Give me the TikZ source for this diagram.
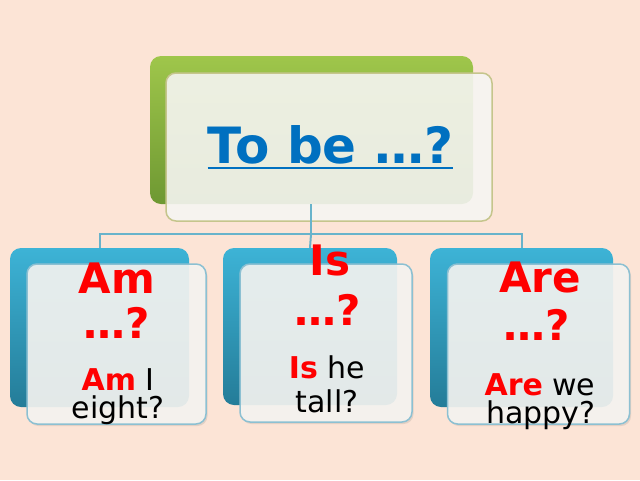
\documentclass[tikz,border=0pt]{standalone}
\usepackage{fontspec}
\setmainfont{DejaVu Sans}
\usetikzlibrary{shadows}
\definecolor{bgc}{HTML}{FCE4D6}
\definecolor{greentop}{HTML}{9FC64B}
\definecolor{greenbot}{HTML}{6E9832}
\definecolor{bluetop}{HTML}{3DB3D6}
\definecolor{bluebot}{HTML}{247C98}
\definecolor{frontfill}{HTML}{F6F5F2}
\definecolor{khaki}{HTML}{C5C58C}
\definecolor{lightblue}{HTML}{8CC0D2}
\definecolor{conncol}{HTML}{68B3CB}
\definecolor{titleblue}{HTML}{0070C0}
\definecolor{redtxt}{HTML}{FF0000}
\begin{document}
\begin{tikzpicture}[x=1pt,y=-1pt,
  box/.style={rectangle,rounded corners=11pt,inner sep=0pt,outer sep=0pt},
  greenback/.style={box,top color=greentop,bottom color=greenbot},
  blueback/.style={box,top color=bluetop,bottom color=bluebot},
  topfront/.style={box,draw=khaki,line width=1.5pt,fill=frontfill,fill opacity=0.9,rounded corners=10pt},
  lowfront/.style={box,draw=lightblue,line width=1.5pt,fill=frontfill,fill opacity=0.9,rounded corners=10pt,
    drop shadow={shadow xshift=1.5pt,shadow yshift=-2pt,opacity=0.2}},
  conn/.style={draw=conncol,line width=2pt},
  bigred/.style={anchor=base,inner sep=0pt,text=redtxt,font=\bfseries\fontsize{42}{42}\selectfont},
  smalltxt/.style={anchor=base,inner sep=0pt,text=black,font=\fontsize{30}{30}\selectfont},
  titletxt/.style={anchor=base,inner sep=0pt,text=titleblue,font=\bfseries\fontsize{50}{50}\selectfont}
]
\useasboundingbox (0,0) rectangle (640,480);
\fill[bgc] (0,0) rectangle (640,480);

% back boxes
\node[greenback,minimum width=323pt,minimum height=148pt] (topback) at (311.5,130) {};
\node[blueback,minimum width=179pt,minimum height=159pt] (leftback) at (99.5,327.5) {};
\node[blueback,minimum width=174pt,minimum height=157pt] (midback) at (310,326.5) {};
\node[blueback,minimum width=183pt,minimum height=159pt] (rightback) at (521.5,327.5) {};

% front top box
\node[topfront,minimum width=326pt,minimum height=148pt] (topfront) at (329,147) {};

% connectors
\coordinate (hub) at (311,234);
\draw[conn] (hub |- topback.south) -- (hub);
\draw[conn] (leftback.north) |- (hub) -| (rightback.north);
\draw[conn] (hub) -- (midback.north);

% front lower boxes
\node[lowfront,minimum width=179pt,minimum height=160pt] (leftfront) at (116.5,344) {};
\node[lowfront,minimum width=172pt,minimum height=158pt] (midfront) at (326,343) {};
\node[lowfront,minimum width=182pt,minimum height=160pt] (rightfront) at (538.5,344) {};

% title
\node[titletxt] (title) at (330.5,163) {To be …?};
\draw[titleblue,line width=2.5pt] ([yshift=-5pt]title.base west) -- ([yshift=-5pt]title.base east);

% left texts
\node[bigred] (am1) at (117,293) {Am};
\node[bigred] (am2) at (117,338) {…?};
\node[smalltxt] (am3) at (118,390) {\textbf{\color{redtxt}Am} I};
\node[smalltxt] (am4) at (118,418) {eight?};

% middle texts
\node[bigred] (is1) at (330,275) {Is};
\node[bigred] (is2) at (328,325) {…?};
\node[smalltxt] (is3) at (327,378) {\textbf{\color{redtxt}Is} he};
\node[smalltxt] (is4) at (327,412) {tall?};

% right texts
\node[bigred] (are1) at (540,292) {Are};
\node[bigred] (are2) at (537,340) {…?};
\node[smalltxt] (are3) at (540,395) {\textbf{\color{redtxt}Are} we};
\node[smalltxt] (are4) at (541,423) {happy?};
\end{tikzpicture}
\end{document}
